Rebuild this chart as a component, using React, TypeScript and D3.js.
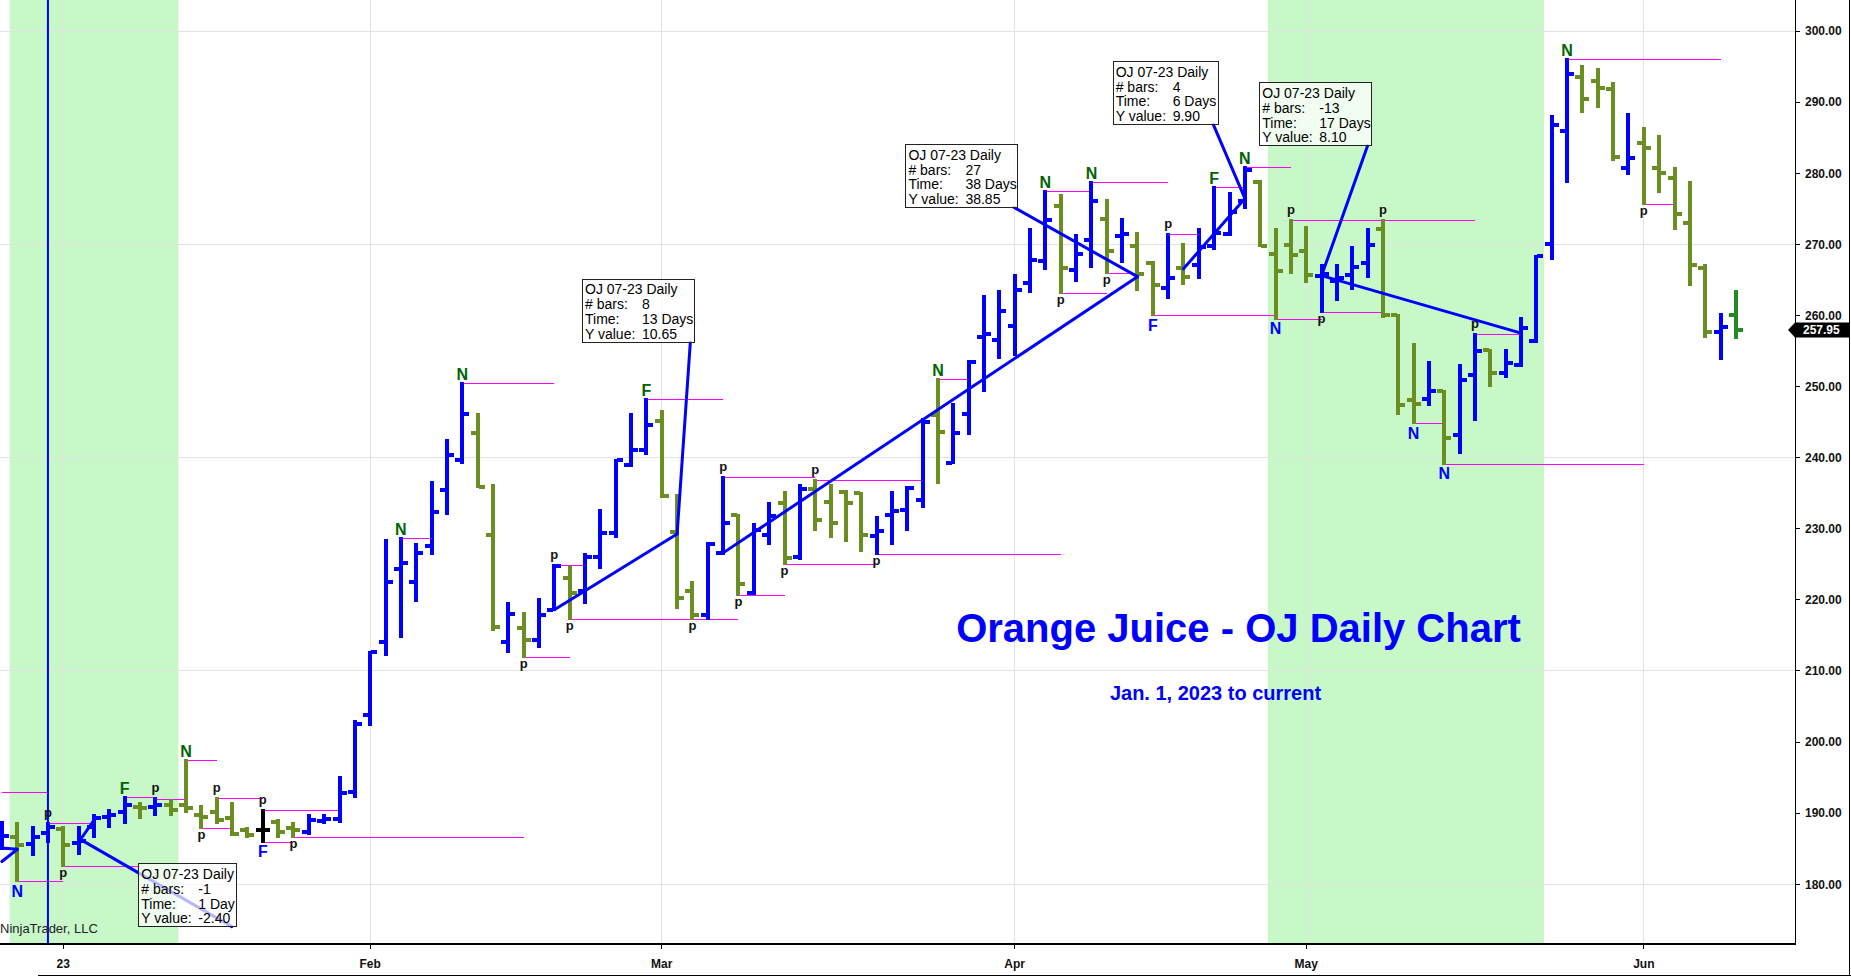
import * as d3 from "d3";

// trading days shown on the chart
const dates = [
  "2022-12-27", "2022-12-28", "2022-12-29", "2022-12-30",
  "2023-01-03", "2023-01-04", "2023-01-05", "2023-01-06", "2023-01-09", "2023-01-10", "2023-01-11", "2023-01-12", "2023-01-13", "2023-01-17",
  "2023-01-18", "2023-01-19", "2023-01-20", "2023-01-23", "2023-01-24", "2023-01-25", "2023-01-26", "2023-01-27", "2023-01-30", "2023-01-31",
  "2023-02-01", "2023-02-02", "2023-02-03", "2023-02-06", "2023-02-07", "2023-02-08", "2023-02-09", "2023-02-10", "2023-02-13", "2023-02-14",
  "2023-02-15", "2023-02-16", "2023-02-17", "2023-02-21", "2023-02-22", "2023-02-23", "2023-02-24", "2023-02-27", "2023-02-28",
  "2023-03-01", "2023-03-02", "2023-03-03", "2023-03-06", "2023-03-07", "2023-03-08", "2023-03-09", "2023-03-10", "2023-03-13", "2023-03-14",
  "2023-03-15", "2023-03-16", "2023-03-17", "2023-03-20", "2023-03-21", "2023-03-22", "2023-03-23", "2023-03-24", "2023-03-27", "2023-03-28",
  "2023-03-29", "2023-03-30", "2023-03-31",
  "2023-04-03", "2023-04-04", "2023-04-05", "2023-04-06", "2023-04-10", "2023-04-11", "2023-04-12", "2023-04-13", "2023-04-14", "2023-04-17",
  "2023-04-18", "2023-04-19", "2023-04-20", "2023-04-21", "2023-04-24", "2023-04-25", "2023-04-26", "2023-04-27", "2023-04-28",
  "2023-05-01", "2023-05-02", "2023-05-03", "2023-05-04", "2023-05-05", "2023-05-08", "2023-05-09", "2023-05-10", "2023-05-11", "2023-05-12",
  "2023-05-15", "2023-05-16", "2023-05-17", "2023-05-18", "2023-05-19", "2023-05-22", "2023-05-23", "2023-05-24", "2023-05-25", "2023-05-26",
  "2023-05-30", "2023-05-31",
  "2023-06-01", "2023-06-02", "2023-06-05", "2023-06-06", "2023-06-07", "2023-06-08", "2023-06-09",
];

const opens = [
  186.4, 186.7, 185.7, 187.2,
  187.8, 185.8, 188.1, 189.5, 190.2, 190.9, 190.8, 191.1, 191.1, 189.7, 190.2, 189.3, 187.6, 187.6, 188.8, 187.9, 187.4, 188.9, 189.1, 192.9,
  203.8, 214.0, 224.3, 222.5, 227.5, 235.5, 239.7, 243.5, 229.1, 214.0, 216.0, 214.3, 218.6, 223.0, 221.3, 226.0, 229.4, 238.9, 241.1,
  245.1, 229.6, 221.2, 217.8, 226.6, 231.9, 220.9, 229.1, 233.6, 226.0, 235.6, 233.7, 235.1, 235.0, 229.0, 231.9, 232.6, 234.1, 246.0, 239.3, 246.2, 257.0, 256.6,
  258.5, 264.5, 267.6, 275.4, 266.4, 270.6, 273.5, 271.1, 269.7, 267.4, 263.9, 266.6, 267.1, 269.7, 271.4, 276.1, 278.8, 268.6, 269.9,
  269.0, 265.6, 264.9, 265.7, 267.3, 272.2, 260.0, 248.1, 248.3, 249.3, 243.2, 251.6, 255.1, 251.9, 253.0, 256.4, 270.0, 286.0, 293.5, 293.0, 291.9, 280.8,
  284.3, 280.7, 279.3, 273.0, 266.6, 257.7, 260.1,
];

const highs = [
  188.8, 188.6, 188.1, 188.6,
  188.0, 188.0, 189.7, 190.4, 192.3, 191.4, 192.1, 191.8, 197.4, 191.0, 192.1, 191.4, 187.9, 190.4, 189.0, 188.6, 189.7, 189.7, 195.1, 203.0,
  212.7, 228.4, 228.7, 227.9, 236.6, 242.5, 250.5, 246.2, 236.1, 219.6, 218.1, 220.1, 224.9, 224.6, 226.5, 232.6, 239.6, 246.1, 248.2,
  246.5, 234.8, 222.5, 228.0, 237.3, 231.9, 230.6, 233.6, 235.1, 236.1, 236.8, 236.1, 235.3, 235.0, 231.6, 235.1, 235.8, 245.4, 251.0, 247.5, 253.6, 262.7, 263.4,
  265.7, 272.1, 277.5, 277.0, 271.3, 278.7, 276.2, 273.5, 271.6, 267.5, 271.4, 270.1, 272.1, 278.1, 277.2, 280.9, 278.9, 272.2, 273.4,
  272.4, 267.1, 267.1, 269.6, 272.2, 273.4, 260.0, 256.0, 253.5, 249.3, 253.0, 257.4, 255.2, 255.2, 259.6, 268.3, 288.0, 296.1, 295.1, 294.6, 292.7, 288.3,
  286.4, 285.3, 280.7, 278.7, 267.1, 260.2, 263.5,
];

const lows = [
  185.0, 180.4, 184.1, 186.0,
  182.6, 184.3, 186.6, 188.1, 188.6, 189.3, 189.7, 189.7, 190.2, 187.9, 188.6, 186.9, 186.6, 186.0, 186.7, 186.6, 187.0, 188.6, 188.8, 192.3,
  202.4, 212.3, 214.8, 219.9, 226.4, 232.1, 239.3, 235.9, 215.7, 212.6, 211.9, 213.4, 218.5, 217.3, 219.6, 224.5, 228.8, 238.8, 240.5,
  234.5, 218.8, 217.3, 217.3, 226.5, 220.7, 220.8, 227.8, 225.0, 225.7, 229.8, 228.9, 228.2, 226.9, 226.5, 227.8, 229.8, 233.0, 236.4, 239.2, 243.3, 249.4, 254.0,
  254.5, 263.3, 266.5, 263.1, 264.9, 266.8, 265.9, 267.5, 263.6, 260.0, 262.4, 264.4, 265.2, 269.4, 271.3, 275.1, 269.7, 259.5, 265.9,
  264.7, 260.5, 262.1, 263.7, 265.4, 259.8, 246.1, 244.8, 247.4, 239.1, 240.7, 245.3, 250.0, 251.3, 252.9, 256.3, 268.0, 278.7, 288.6, 289.3, 281.8, 279.9,
  275.6, 277.4, 272.2, 264.3, 256.9, 253.8, 256.8,
];

const closes = [
  186.8, 185.5, 186.6, 188.0,
  185.5, 186.1, 189.3, 189.7, 191.1, 190.7, 191.1, 190.5, 190.7, 189.4, 189.0, 187.1, 186.9, 187.6, 187.4, 187.6, 189.0, 189.1, 192.8, 202.6,
  212.6, 222.5, 225.2, 226.6, 232.4, 240.4, 246.1, 235.9, 216.2, 218.0, 214.4, 217.9, 224.8, 220.9, 226.0, 229.4, 239.6, 241.0, 244.6,
  234.6, 220.2, 217.8, 227.9, 230.8, 222.2, 229.8, 231.8, 225.9, 235.6, 231.2, 230.8, 233.6, 229.1, 229.7, 232.5, 235.7, 245.0, 243.6, 243.4, 253.5, 257.4, 260.6,
  263.6, 267.8, 273.4, 266.6, 268.6, 276.1, 269.1, 271.5, 265.8, 264.3, 265.2, 265.4, 269.6, 271.6, 274.6, 280.5, 269.7, 266.3, 268.5,
  265.7, 265.8, 265.2, 266.8, 269.9, 260.0, 247.4, 247.5, 249.3, 242.8, 250.9, 255.0, 251.9, 253.3, 258.2, 268.3, 286.8, 294.0, 290.4, 292.0, 282.3, 282.2,
  283.6, 280.0, 274.3, 267.1, 257.7, 258.4, 257.95,
];

// shaded (green) date ranges, inclusive
const shadedRanges: [string, string][] = [
  ["2022-12-28", "2023-01-12"],
  ["2023-04-27", "2023-05-22"],
];

const markerDate = "2022-12-30";

// pivot level lines: start day, end day, price
const pivotLevels: [string, string, number][] = [
  ["2022-12-27", "2022-12-30", 192.9],
  ["2022-12-27", "2022-12-28", 185.0],
  ["2022-12-28", "2023-01-03", 180.4],
  ["2022-12-30", "2023-01-05", 188.6],
  ["2023-01-03", "2023-01-10", 182.6],
  ["2023-01-09", "2023-01-11", 192.3],
  ["2023-01-11", "2023-01-13", 192.0],
  ["2023-01-13", "2023-01-18", 197.4],
  ["2023-01-17", "2023-01-19", 187.9],
  ["2023-01-18", "2023-01-23", 192.1],
  ["2023-01-23", "2023-01-30", 190.4],
  ["2023-01-23", "2023-01-25", 186.0],
  ["2023-01-25", "2023-02-15", 186.6],
  ["2023-02-03", "2023-02-07", 228.7],
  ["2023-02-09", "2023-02-17", 250.5],
  ["2023-02-15", "2023-02-21", 211.9],
  ["2023-02-17", "2023-02-22", 224.9],
  ["2023-02-21", "2023-03-08", 217.3],
  ["2023-02-28", "2023-03-07", 248.2],
  ["2023-03-07", "2023-03-15", 237.3],
  ["2023-03-08", "2023-03-13", 220.7],
  ["2023-03-13", "2023-03-21", 225.0],
  ["2023-03-15", "2023-03-24", 236.8],
  ["2023-03-21", "2023-04-06", 226.5],
  ["2023-03-27", "2023-03-29", 251.0],
  ["2023-04-05", "2023-04-11", 277.5],
  ["2023-04-06", "2023-04-12", 263.1],
  ["2023-04-11", "2023-04-18", 278.7],
  ["2023-04-12", "2023-04-14", 265.9],
  ["2023-04-17", "2023-04-27", 260.0],
  ["2023-04-18", "2023-04-20", 271.4],
  ["2023-04-21", "2023-04-25", 278.1],
  ["2023-04-25", "2023-04-28", 280.9],
  ["2023-04-27", "2023-05-02", 259.5],
  ["2023-04-28", "2023-05-16", 273.4],
  ["2023-05-02", "2023-05-08", 260.5],
  ["2023-05-10", "2023-05-12", 244.8],
  ["2023-05-12", "2023-06-01", 239.1],
  ["2023-05-16", "2023-05-19", 257.4],
  ["2023-05-24", "2023-06-08", 296.1],
  ["2023-06-01", "2023-06-05", 275.6],
];

// swing labels: day, text, side of the bar
const swingLabels: [string, string, "above" | "below"][] = [
  ["2022-12-28", "N", "below"], ["2022-12-30", "p", "above"], ["2023-01-03", "p", "below"],
  ["2023-01-09", "F", "above"], ["2023-01-11", "p", "above"], ["2023-01-13", "N", "above"],
  ["2023-01-17", "p", "below"], ["2023-01-18", "p", "above"], ["2023-01-23", "p", "above"],
  ["2023-01-23", "F", "below"], ["2023-01-25", "p", "below"], ["2023-02-03", "N", "above"],
  ["2023-02-09", "N", "above"], ["2023-02-15", "p", "below"], ["2023-02-17", "p", "above"],
  ["2023-02-21", "p", "below"], ["2023-02-28", "F", "above"], ["2023-03-03", "p", "below"],
  ["2023-03-07", "p", "above"], ["2023-03-08", "p", "below"], ["2023-03-13", "p", "below"],
  ["2023-03-15", "p", "above"], ["2023-03-21", "p", "below"], ["2023-03-27", "N", "above"],
  ["2023-04-05", "N", "above"], ["2023-04-06", "p", "below"], ["2023-04-11", "N", "above"],
  ["2023-04-12", "p", "below"], ["2023-04-17", "F", "below"], ["2023-04-18", "p", "above"],
  ["2023-04-21", "F", "above"], ["2023-04-25", "N", "above"], ["2023-04-27", "N", "below"],
  ["2023-04-28", "p", "above"], ["2023-05-02", "p", "below"], ["2023-05-08", "p", "above"],
  ["2023-05-10", "N", "below"], ["2023-05-12", "N", "below"], ["2023-05-16", "p", "above"],
  ["2023-05-24", "N", "above"], ["2023-06-01", "p", "below"],
];

// drawn trend lines: from day, price, to day, price
const trendSegments: [string, number, string, number][] = [
  ["2022-12-27", 183.2, "2022-12-28", 184.9],
  ["2022-12-27", 185.1, "2022-12-28", 184.9],
  ["2023-01-04", 185.9, "2023-01-05", 189.0],
  ["2023-02-17", 218.6, "2023-03-02", 229.25],
  ["2023-03-07", 226.6, "2023-04-14", 265.45],
  ["2023-04-19", 266.55, "2023-04-25", 276.45],
  ["2023-05-02", 265.6, "2023-05-19", 257.5],
];

// measure notes: anchor day, anchor price, bars, time, y value
const noteDates = ["2023-01-04", "2023-03-02", "2023-04-14", "2023-04-25", "2023-05-02"];
const notePrices = [186.45, 229.25, 265.45, 276.45, 265.6];
const noteBars = ["-1", "8", "27", "4", "-13"];
const noteTimes = ["1 Day", "13 Days", "38 Days", "6 Days", "17 Days"];
const noteYValues = ["-2.40", "10.65", "38.85", "9.90", "8.10"];
const noteTitle = "OJ 07-23 Daily";

const priceTicks = d3.range(180, 301, 10);
const gridPrices = [180, 210, 240, 270, 300];

const chartTitle = "Orange Juice - OJ Daily Chart";
const chartSubtitle = "Jan. 1, 2023 to current";
const credit = "NinjaTrader, LLC";

const W = 1851;
const H = 976;
const PLOT_R = 1795.5;
const PLOT_B = 944;
const BLUE = "#0000ff";
const OLIVE = "#6b8e23";
const LAST = "#228b22";
const DARK_GREEN = "#006400";
const FONT = "'Liberation Sans', Arial, sans-serif";

// box top-left corners (px) for the five measure notes
const noteBoxes: [number, number][] = [
  [138.3, 863.3],
  [582, 278.6],
  [905.4, 144],
  [1112.7, 61],
  [1259.3, 82.3],
];

const arialW: Record<string, number> = {
  " ": 278, "-": 333, ".": 278, D: 722, a: 556, y: 500, s: 500,
};
const textW = (s: string, size: number) =>
  (s.split("").reduce((t, c) => t + (arialW[c] ?? 556), 0) * size) / 1000;

const parse = d3.timeParse("%Y-%m-%d");
const fmtMonth = d3.timeFormat("%b");
const fmtYear = d3.timeFormat("%y");

export default function App() {
  const n = dates.length;
  const x = d3.scaleLinear([0, n - 1], [1.92, 1735.9]);
  const y = d3.scaleLinear([180, 300], [884.2, 31]);
  const step = x(1) - x(0);
  const xd = (d: string) => x(dates.indexOf(d));

  const monthTicks = dates
    .map((d, i) => ({ d, i }))
    .filter(({ d, i }) => i > 0 && d.slice(5, 7) !== dates[i - 1].slice(5, 7))
    .map(({ d, i }) => {
      const dt = parse(d)!;
      return { x: x(i), label: dt.getMonth() === 0 ? fmtYear(dt) : fmtMonth(dt) };
    });

  const lastPrice = closes[n - 1];
  const ly = y(lastPrice);

  return (
    <div style={{ position: "absolute", left: 0, top: 0 }}>
      <svg width={W} height={H} style={{ display: "block", background: "#fff" }} fontFamily={FONT}>
        {/* shaded sessions */}
        {shadedRanges.map(([a, b]) => (
          <rect
            key={a}
            x={xd(a) - step / 2}
            y={0}
            width={xd(b) - xd(a) + step}
            height={PLOT_B}
            fill="#c8f7c8"
          />
        ))}

        {/* grid */}
        <g stroke="#e2e2e2" strokeWidth={1} shapeRendering="crispEdges">
          {gridPrices.map((p) => (
            <line key={p} x1={0} x2={PLOT_R} y1={y(p)} y2={y(p)} />
          ))}
          {monthTicks.map((t) => (
            <line key={t.label} x1={t.x} x2={t.x} y1={0} y2={PLOT_B} />
          ))}
        </g>

        {/* pivot levels */}
        <g stroke="#ff00ff" strokeWidth={1} shapeRendering="crispEdges">
          {pivotLevels.map(([a, b, p], i) => (
            <line key={i} x1={xd(a)} x2={xd(b)} y1={Math.round(y(p)) + 0.5} y2={Math.round(y(p)) + 0.5} />
          ))}
        </g>

        {/* OHLC bars */}
        <g shapeRendering="crispEdges">
          {dates.map((d, i) => {
            const c =
              i === n - 1 ? LAST : closes[i] > opens[i] ? BLUE : closes[i] < opens[i] ? OLIVE : "#000";
            const cx = Math.round(x(i));
            const yo = Math.round(y(opens[i]));
            const yc = Math.round(y(closes[i]));
            const yh = Math.round(y(highs[i]));
            const yl = Math.round(y(lows[i]));
            return (
              <g key={d} fill={c}>
                <rect x={cx - 2} y={yh - 1} width={4} height={yl - yh + 2} />
                <rect x={cx - 7} y={yo - 2} width={6} height={4} />
                <rect x={cx + 1} y={yc - 2} width={6} height={4} />
              </g>
            );
          })}
        </g>

        {/* vertical marker line */}
        <line x1={xd(markerDate)} x2={xd(markerDate)} y1={0} y2={PLOT_B} stroke={BLUE} strokeWidth={2} />

        {/* trend lines and note leaders */}
        <g stroke={BLUE} strokeWidth={3} strokeLinecap="round">
          {trendSegments.map(([a, pa, b, pb], i) => (
            <line key={i} x1={xd(a)} y1={y(pa)} x2={xd(b)} y2={y(pb)} />
          ))}
          {noteDates.map((d, i) => {
            const [bx, by] = noteBoxes[i];
            const bw = 61 + textW(noteTimes[i], 14);
            return <line key={d} x1={xd(d)} y1={y(notePrices[i])} x2={bx + bw - 4} y2={by + 63.3} />;
          })}
        </g>

        {/* measure note boxes */}
        {noteDates.map((d, i) => {
          const [bx, by] = noteBoxes[i];
          const bw = 61 + textW(noteTimes[i], 14);
          const rows: [string, string][] = [
            ["# bars:", noteBars[i]],
            ["Time:", noteTimes[i]],
            ["Y value:", noteYValues[i]],
          ];
          return (
            <g key={"box" + d} fontSize={14} fill="#000">
              <rect
                x={Math.round(bx) + 0.5}
                y={Math.round(by) + 0.5}
                width={Math.round(bw)}
                height={63}
                fill="#fff"
                fillOpacity={0.72}
                stroke="#222"
                strokeWidth={1}
              />
              <text x={bx + 3} y={by + 15.7}>{noteTitle}</text>
              {rows.map(([k, v], j) => (
                <g key={k}>
                  <text x={bx + 3} y={by + 30.5 + j * 14.8}>{k}</text>
                  <text x={bx + 60} y={by + 30.5 + j * 14.8}>{v}</text>
                </g>
              ))}
            </g>
          );
        })}

        {/* swing labels */}
        {swingLabels.map(([d, t, side], i) => {
          const idx = dates.indexOf(d);
          const isP = t === "p";
          const yy =
            side === "above"
              ? y(highs[idx]) - (isP ? 6 : 3)
              : y(lows[idx]) + (isP ? 11 : 15.5);
          const fill = isP ? "#111" : side === "above" ? DARK_GREEN : BLUE;
          return (
            <text
              key={i}
              x={x(idx)}
              y={yy}
              textAnchor="middle"
              fontSize={isP ? 13 : 16}
              fontWeight={700}
              fill={fill}
            >
              {t}
            </text>
          );
        })}

        {/* titles */}
        <text x={1238.5} y={641.7} textAnchor="middle" fontSize={40} fontWeight={700} fill={BLUE}>
          {chartTitle}
        </text>
        <text x={1215.5} y={700} textAnchor="middle" fontSize={20} fontWeight={700} fill={BLUE}>
          {chartSubtitle}
        </text>
        <text x={0} y={933} fontSize={13} fill="#222">
          {credit}
        </text>

        {/* axes */}
        <g stroke="#000" strokeWidth={1.5} shapeRendering="crispEdges">
          <line x1={0} x2={PLOT_R} y1={PLOT_B} y2={PLOT_B} />
          <line x1={PLOT_R} x2={PLOT_R} y1={0} y2={PLOT_B} />
        </g>
        <g stroke="#000" strokeWidth={1} shapeRendering="crispEdges">
          {priceTicks.map((p) => (
            <line key={p} x1={PLOT_R} x2={PLOT_R + 4.5} y1={y(p)} y2={y(p)} />
          ))}
          {monthTicks.map((t) => (
            <line key={t.label} x1={t.x} x2={t.x} y1={PLOT_B} y2={PLOT_B + 5} />
          ))}
          <line x1={38} x2={W} y1={975.5} y2={975.5} />
          <line x1={1849.5} x2={1849.5} y1={0} y2={H} />
        </g>
        <g fontSize={12} fontWeight={700} fill="#111">
          {priceTicks.map((p) => (
            <text key={p} x={1805} y={y(p) + 4.3}>
              {d3.format(".2f")(p)}
            </text>
          ))}
          {monthTicks.map((t) => (
            <text key={t.label} x={t.x} y={967.7} textAnchor="middle">
              {t.label}
            </text>
          ))}
        </g>

        {/* last price marker */}
        <polygon
          points={`1788,${ly} 1795,${ly - 7.5} 1849,${ly - 7.5} 1849,${ly + 7.5} 1795,${ly + 7.5}`}
          fill="#000"
        />
        <text x={1803} y={ly + 4.3} fontSize={12} fontWeight={700} fill="#fff">
          {d3.format(".2f")(lastPrice)}
        </text>
      </svg>
    </div>
  );
}
